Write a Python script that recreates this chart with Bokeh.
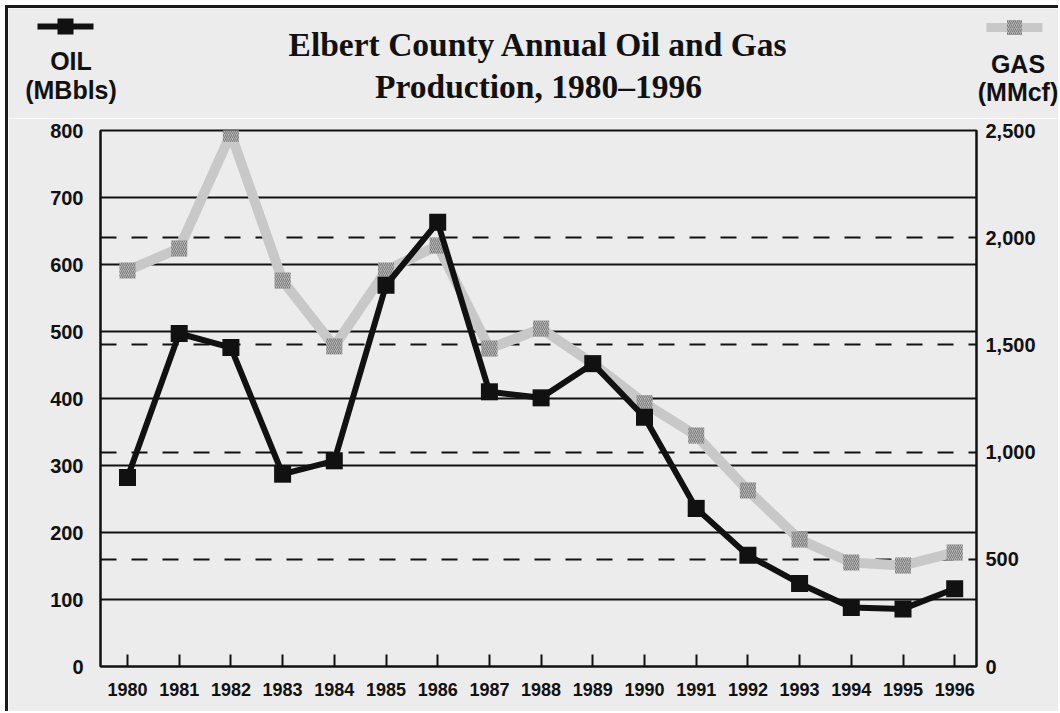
from bokeh.plotting import figure
from bokeh.layouts import column
from bokeh.models import (Range1d, LinearAxis, FixedTicker, NumeralTickFormatter, Grid)
from bokeh.core.properties import value
from bokeh.embed import file_html
from bokeh.resources import INLINE

# ---- data ----
years = [1980, 1981, 1982, 1983, 1984, 1985, 1986, 1987, 1988,
         1989, 1990, 1991, 1992, 1993, 1994, 1995, 1996]
oil_mbbls = [282, 497, 476, 287, 307, 569, 663, 410, 401,
             452, 372, 236, 166, 124, 88, 86, 116]
gas_mmcf = [1847, 1950, 2485, 1800, 1493, 1847, 1964, 1483, 1576,
            1413, 1228, 1077, 821, 592, 485, 471, 532]
oil_ticks = [0, 100, 200, 300, 400, 500, 600, 700, 800]
gas_ticks = [0, 500, 1000, 1500, 2000, 2500]
gas_dash_ticks = [500, 1000, 1500, 2000]
title_lines = ["Elbert County Annual Oil and Gas", "Production, 1980\u20131996"]
oil_title = ["OIL", "(MBbls)"]
gas_title = ["GAS", "(MMcf)"]

BG = "#ececec"
INK = "#111111"
GAS_LINE = "#c8c8c8"
GAS_MARK = "#b4b4b4"
SANS = "Liberation Sans"
SERIF = "Liberation Serif"

# page layout: content origin at (8, 8); frame x 100..976, y 130..666
OX, OY = 8, 8
W = 1050
HH = 110                      # header height (page y 8..118)
MH = 593                      # main figure height (page y 118..711)
FL = 100 - OX
FT = 130 - (OY + HH)
FW, FH = 876, 536
x0 = 1980 - 27 / 51.7
x1 = x0 + FW / 51.7

# ---------- header: title, axis titles, symbol keys ----------
hd = figure(width=W, height=HH, output_backend="svg", toolbar_location=None,
            x_range=Range1d(OX, OX + W), y_range=Range1d(OY + HH, OY),
            x_axis_type=None, y_axis_type=None, min_border=0,
            background_fill_color=BG, border_fill_color=BG, outline_line_color=None)
hd.frame_align = False
hd.xgrid.visible = False
hd.ygrid.visible = False

hd.text(x=[538, 538], y=[44, 86], text=title_lines, text_align="center",
        text_baseline="alphabetic", text_font=value(SERIF), text_font_style="bold",
        text_font_size="33.5px", text_color=INK)
hd.text(x=[70.5, 70.5], y=[60, 89], text=oil_title, text_align="center",
        text_baseline="alphabetic", text_font=value(SANS), text_font_style="bold",
        text_font_size="25px", text_color=INK)
hd.text(x=[1017.5, 1017.5], y=[63, 91], text=gas_title, text_align="center",
        text_baseline="alphabetic", text_font=value(SANS), text_font_style="bold",
        text_font_size="25px", text_color=INK)
# key symbols
hd.line(x=[37, 93], y=[26, 26], line_color=INK, line_width=6)
hd.scatter(x=[65], y=[26], marker="square", size=16, fill_color=INK, line_color=None)
hd.line(x=[986, 1042], y=[27, 27], line_color=GAS_LINE, line_width=9)
hd.scatter(x=[1014], y=[27], marker="square", size=15, fill_color=GAS_MARK, line_color=None,
           hatch_pattern="right_diagonal_line", hatch_color="#7a7a7a",
           hatch_scale=4, hatch_weight=1)

# ---------- main chart ----------
p = figure(width=W, height=MH, output_backend="svg", toolbar_location=None,
           x_range=Range1d(x0, x1), y_range=Range1d(0, 800),
           min_border_left=FL, min_border_top=FT,
           min_border_right=W - FL - FW, min_border_bottom=MH - FT - FH,
           background_fill_color=BG, border_fill_color=BG)
p.frame_align = False
p.extra_y_ranges = {"gas": Range1d(0, 2500)}
p.outline_line_color = INK
p.outline_line_width = 2

p.xaxis.ticker = FixedTicker(ticks=years)
p.xaxis.major_tick_in = 12
p.xaxis.major_tick_out = 0
p.xaxis.minor_tick_line_color = None
p.xaxis.major_tick_line_width = 2
p.xaxis.major_tick_line_color = INK
p.xaxis.axis_line_width = 2
p.xaxis.axis_line_color = INK
p.xaxis.major_label_standoff = 16
p.xaxis.major_label_text_font = SANS
p.xaxis.major_label_text_font_style = "bold"
p.xaxis.major_label_text_font_size = "18px"
p.xaxis.major_label_text_color = INK

p.yaxis.ticker = FixedTicker(ticks=oil_ticks)
p.yaxis.major_tick_in = 0
p.yaxis.major_tick_out = 0
p.yaxis.minor_tick_line_color = None
p.yaxis.axis_line_width = 2
p.yaxis.axis_line_color = INK
p.yaxis.major_label_standoff = 17
p.yaxis.major_label_text_font = SANS
p.yaxis.major_label_text_font_style = "bold"
p.yaxis.major_label_text_font_size = "20px"
p.yaxis.major_label_text_color = INK

gas_axis = LinearAxis(y_range_name="gas", ticker=FixedTicker(ticks=gas_ticks),
                      formatter=NumeralTickFormatter(format="0,0"),
                      major_tick_in=0, major_tick_out=0, minor_tick_line_color=None,
                      axis_line_width=2, axis_line_color=INK,
                      major_label_standoff=9, major_label_text_font=SANS,
                      major_label_text_font_style="bold",
                      major_label_text_font_size="20px",
                      major_label_text_color=INK)
p.add_layout(gas_axis, "right")

p.xgrid.grid_line_color = None
p.ygrid.ticker = FixedTicker(ticks=oil_ticks)
p.ygrid.grid_line_color = INK
p.ygrid.grid_line_width = 2
gas_grid = Grid(dimension=1, ticker=FixedTicker(ticks=gas_dash_ticks), y_range_name="gas",
                grid_line_color=INK, grid_line_width=2, grid_line_dash="16 15")
p.add_layout(gas_grid)

p.line(years, gas_mmcf, y_range_name="gas", line_color=GAS_LINE, line_width=10)
p.scatter(years, gas_mmcf, y_range_name="gas", marker="square", size=16,
          fill_color=GAS_MARK, line_color=None,
          hatch_pattern="right_diagonal_line", hatch_color="#7a7a7a",
          hatch_scale=4, hatch_weight=1)
p.line(years, oil_mbbls, line_color=INK, line_width=6)
p.scatter(years, oil_mbbls, marker="square", size=17, fill_color=INK, line_color=None)

layout = column(hd, p, spacing=0,
                styles={"margin-top": "5px", "margin-left": "5px",
                        "border-top": "3px solid #1a1a1a", "border-left": "3px solid #1a1a1a"})

open("out.html", "w").write(file_html(layout, INLINE))
